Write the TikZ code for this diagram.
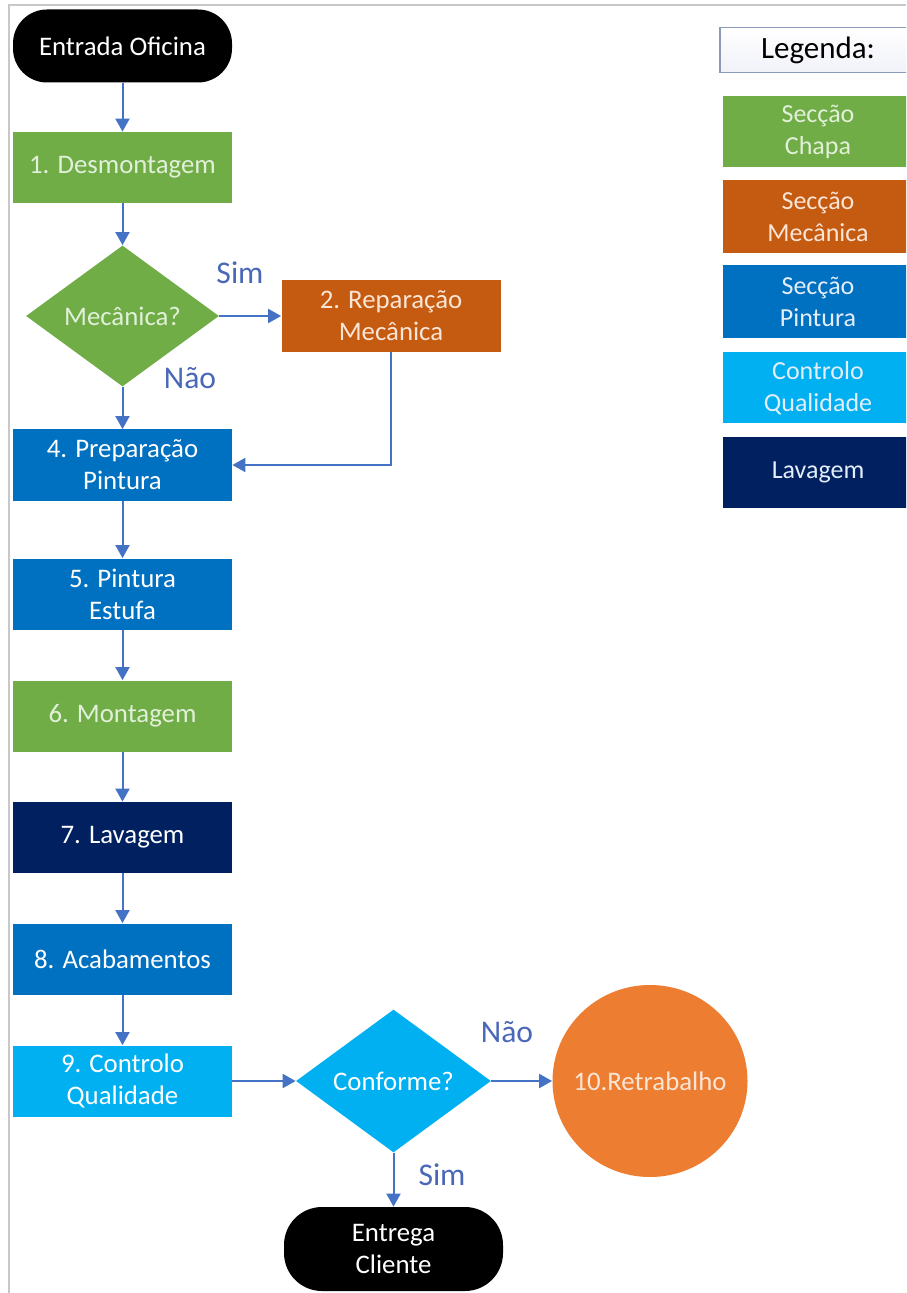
\documentclass[tikz,border=0pt]{standalone}
\usepackage{fontspec}
\setmainfont{Carlito}
\usetikzlibrary{shapes.geometric,arrows.meta}

% palette
\definecolor{chapa}{HTML}{70AD47}
\definecolor{mecanica}{HTML}{C55A11}
\definecolor{pintura}{HTML}{0070C0}
\definecolor{qualidade}{HTML}{00B0F0}
\definecolor{lavagem}{HTML}{002060}
\definecolor{retrab}{HTML}{ED7D31}
\definecolor{flow}{HTML}{4472C4}
\definecolor{lbl}{HTML}{4A68B8}
\definecolor{framec}{HTML}{C8C8C8}
\definecolor{txtgreen}{HTML}{E2F0D9}
\definecolor{txtorange}{HTML}{FBE5D6}
\definecolor{txtblue}{HTML}{E4EEFA}
\definecolor{legfill}{HTML}{F1F2F9}
\definecolor{legdraw}{HTML}{8A9AB8}

\newcommand\boxfont{\fontsize{13.4}{16}\selectfont}
\newcommand\legfont{\fontsize{13}{16}\selectfont}
\newcommand\lblfont{\fontsize{15.8}{18}\selectfont}

\tikzset{
  procbox/.style={rectangle, minimum width=109.5pt, minimum height=35.5pt,
    inner sep=0pt, align=center, font=\boxfont, text=white},
  terminal/.style={rectangle, rounded corners=17pt, fill=black, minimum width=109.5pt,
    inner sep=0pt, align=center, font=\boxfont, text=white},
  decision/.style={diamond, inner sep=0pt, align=center, font=\boxfont,
    minimum width=96.5pt, minimum height=70.5pt, aspect=1.38},
  legbox/.style={rectangle, minimum width=95pt, minimum height=35.5pt,
    inner sep=0pt, align=center, font=\legfont, text=white},
  flowarrow/.style={draw=flow, line width=1pt,
    -{Triangle[width=7pt,length=6.5pt]}},
  answer/.style={font=\lblfont, text=lbl}
}

\begin{document}
\begin{tikzpicture}[x=0.5pt,y=-0.5pt]
\useasboundingbox (0,0) rectangle (906,1293);
\clip (0,0) rectangle (906,1293);
\fill[white] (0,0) rectangle (906,1293);

% page frame
\draw[framec, line width=0.8pt] (906,5) -- (9,5) -- (9,1293);

% main flow
\node[terminal, minimum height=36.5pt] (entrada) at (122.5,46) {Entrada Oficina};
\node[procbox, fill=chapa, text=txtgreen] (desm) at (122.5,167.5) {1. Desmontagem};
\node[decision, fill=chapa, text=txtgreen] (mecq) at (122.5,316) {Mecânica?};
\node[procbox, fill=mecanica, text=txtorange, minimum height=36pt] (repar) at (391,316) {2. Reparação\\Mecânica};
\node[procbox, fill=pintura] (prep) at (122.5,465) {4. Preparação\\Pintura};
\node[procbox, fill=pintura] (pint) at (122.5,594) {5. Pintura\\Estufa};
\node[procbox, fill=chapa, text=txtgreen] (mont) at (122.5,716) {6. Montagem};
\node[procbox, fill=lavagem] (lav) at (122.5,837.5) {7. Lavagem};
\node[procbox, fill=pintura] (acab) at (122.5,959) {8. Acabamentos};
\node[procbox, fill=qualidade] (ctrl) at (122.5,1081) {9. Controlo\\Qualidade};
\node[decision, fill=qualidade, text=white, minimum width=97.5pt, minimum height=71.5pt] (confq) at (393.5,1081) {Conforme?};
\node[ellipse, fill=retrab, inner sep=0pt,
      minimum width=97.5pt, minimum height=96pt] (retr) at (650,1081) {};
\node[text=txtorange, font=\boxfont, inner sep=0pt] (retrtxt) at (retr.center) {10.Retrabalho};
\node[terminal, minimum height=42pt, rounded corners=19pt] (entrega) at (393.5,1249) {Entrega\\Cliente};

% connectors
\draw[flowarrow] (entrada) -- (desm);
\draw[flowarrow] (desm) -- (mecq);
\draw[flowarrow] (mecq.east) -- (repar.west);
\draw[flowarrow] (mecq) -- (prep);
\draw[flowarrow] (repar.south) |- (prep.east);
\draw[flowarrow] (prep) -- (pint);
\draw[flowarrow] (pint) -- (mont);
\draw[flowarrow] (mont) -- (lav);
\draw[flowarrow] (lav) -- (acab);
\draw[flowarrow] (acab) -- (ctrl);
\draw[flowarrow] (ctrl.east) -- (confq.west);
\draw[flowarrow] (confq.east) -- (retr.west);
\draw[flowarrow] (confq.south) -- (entrega.north);

% branch answers
\node[answer] (simA) at (240,273) {Sim};
\node[answer] (naoA) at (190,378) {Não};
\node[answer] (naoB) at (507,1032) {Não};
\node[answer] (simB) at (442,1175) {Sim};

% legend
\node[rectangle, draw=legdraw, line width=0.6pt, top color=white, bottom color=legfill,
      minimum width=98pt, minimum height=22.5pt, inner sep=0pt,
      font=\fontsize{15.5}{18}\selectfont] (legt) at (818,50) {Legenda:};
\node[legbox, fill=chapa, text=txtgreen] (lchapa) at (818,132) {Secção\\Chapa};
\node[legbox, fill=mecanica, text=txtorange, minimum height=36.5pt] (lmec) at (818,216.5) {Secção\\Mecânica};
\node[legbox, fill=pintura, text=txtblue, minimum height=36.5pt] (lpint) at (818,301.5) {Secção\\Pintura};
\node[legbox, fill=qualidade, text=txtblue] (lqual) at (818,388) {Controlo\\Qualidade};
\node[legbox, fill=lavagem, text=txtblue] (llav) at (818,472.5) {Lavagem};
\end{tikzpicture}
\end{document}
